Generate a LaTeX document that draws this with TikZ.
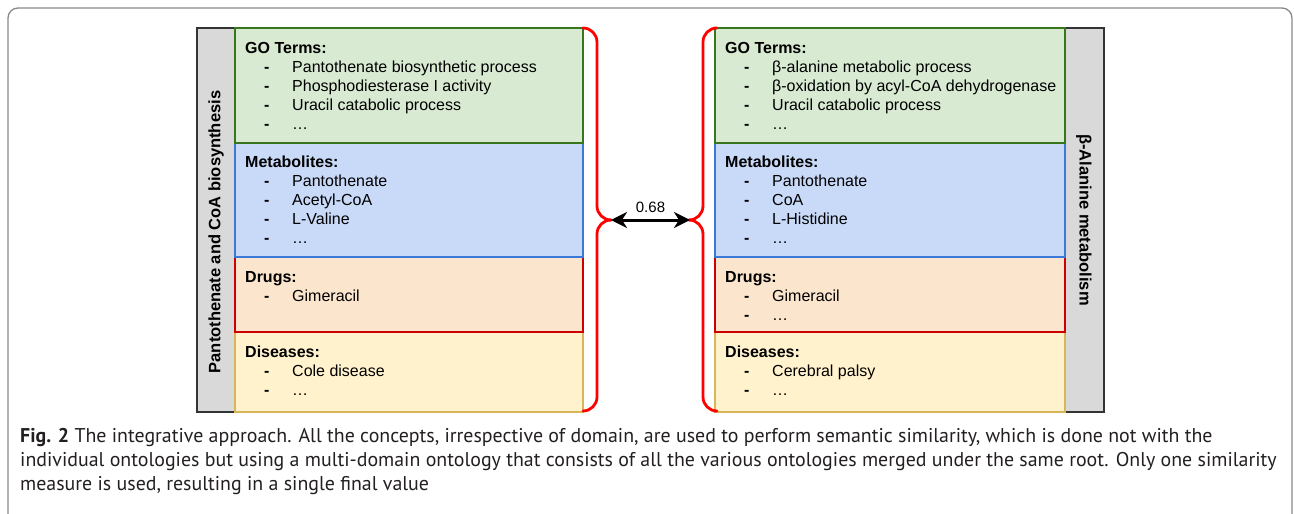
\documentclass[tikz,border=0pt]{standalone}
\usepackage{fontspec}
\setmainfont{Liberation Sans}
\newfontfamily\capfont{PT Sans}
\usetikzlibrary{arrows.meta}
\definecolor{gofill}{HTML}{D9EAD3}\definecolor{godraw}{HTML}{38761D}
\definecolor{mefill}{HTML}{C9DAF8}\definecolor{medraw}{HTML}{3C78D8}
\definecolor{drfill}{HTML}{FCE5CD}\definecolor{drdraw}{HTML}{CC0000}
\definecolor{difill}{HTML}{FFF2CC}\definecolor{didraw}{HTML}{D6B656}
\definecolor{barfill}{HTML}{D9D9D9}
\definecolor{frame}{HTML}{8A8A8A}
\definecolor{captxt}{HTML}{231F20}
\tikzset{
  sec/.style={draw=#1draw, fill=#1fill, line width=1.2pt},
  bar/.style={draw=black!80, fill=barfill, line width=1.2pt},
  listtxt/.style={anchor=north west, inner sep=0pt, align=left, font=\fontsize{16}{19}\selectfont},
  vlabel/.style={inner sep=0pt, font=\fontsize{16.5}{19}\selectfont\bfseries},
  brace/.style={draw=red, line width=2.8pt, line cap=round, line join=round, rounded corners=14pt},
  simarrow/.style={draw=black, line width=3pt, {Stealth[length=16pt,width=16pt,inset=5pt]}-{Stealth[length=16pt,width=16pt,inset=5pt]}},
}
\newcommand\li[1]{\hspace*{19pt}\makebox[28pt][l]{\textbf{-}}#1}
\begin{document}
\begin{tikzpicture}[x=1pt,y=-1pt]
\useasboundingbox (0,0) rectangle (1294,514);
% outer frame
\draw[frame, line width=1.3pt, rounded corners=10pt] (8,520) -- (8,8) -- (1292,8) -- (1292,520);
% left side
\filldraw[bar] (197,28) rectangle (235,412);
\node[vlabel, rotate=90] (lname) at (216,232) {Pantothenate and CoA biosynthesis};
\filldraw[sec=di] (235,332) rectangle (583,412);
\filldraw[sec=dr] (235,257) rectangle (583,332);
\filldraw[sec=me] (235,143) rectangle (583,257);
\filldraw[sec=go] (235,28) rectangle (583,143);
\node[listtxt] (lgo) at (245,42) {\textbf{GO Terms:}\\\li{Pantothenate biosynthetic process}\\\li{Phosphodiesterase I activity}\\\li{Uracil catabolic process}\\\li{\ldots}};
\node[listtxt] (lme) at (245,156) {\textbf{Metabolites:}\\\li{Pantothenate}\\\li{Acetyl-CoA}\\\li{L-Valine}\\\li{\ldots}};
\node[listtxt] (ldr) at (245,271) {\textbf{Drugs:}\\\li{Gimeracil}};
\node[listtxt] (ldi) at (245,346) {\textbf{Diseases:}\\\li{Cole disease}\\\li{\ldots}};
% right side
\filldraw[bar] (1065,28) rectangle (1104,412);
\node[vlabel, rotate=-90] (rname) at (1084,220) {β-Alanine metabolism};
\filldraw[sec=di] (715,332) rectangle (1065,412);
\filldraw[sec=dr] (715,257) rectangle (1065,332);
\filldraw[sec=me] (715,143) rectangle (1065,257);
\filldraw[sec=go] (715,28) rectangle (1065,143);
\node[listtxt] (rgo) at (725,42) {\textbf{GO Terms:}\\\li{β-alanine metabolic process}\\\li{β-oxidation by acyl-CoA dehydrogenase}\\\li{Uracil catabolic process}\\\li{\ldots}};
\node[listtxt] (rme) at (725,156) {\textbf{Metabolites:}\\\li{Pantothenate}\\\li{CoA}\\\li{L-Histidine}\\\li{\ldots}};
\node[listtxt] (rdr) at (725,271) {\textbf{Drugs:}\\\li{Gimeracil}\\\li{\ldots}};
\node[listtxt] (rdi) at (725,346) {\textbf{Diseases:}\\\li{Cerebral palsy}\\\li{\ldots}};
% braces
\coordinate (ltip) at (611,220);
\coordinate (rtip) at (690,220);
\draw[brace] (584,28) -- (597,28) -- (597,220) -- (ltip);
\draw[brace] (ltip) -- (597,220) -- (597,411) -- (584,411);
\draw[brace] (714,28) -- (703,28) -- (703,220) -- (rtip);
\draw[brace] (rtip) -- (703,220) -- (703,411) -- (714,411);
\draw[simarrow] (ltip) -- node[above=5pt, font=\fontsize{15}{16}\selectfont, inner sep=1pt] (sim) {0.68} (rtip);
% caption
\node[anchor=north west, inner sep=0pt, align=left, text=captxt, font=\capfont\fontsize{19.9}{24}\selectfont] (cap) at (20,428)
 {\textbf{Fig. 2} The integrative approach. All the concepts, irrespective of domain, are used to perform semantic similarity, which is done not with the\\
 individual ontologies but using a multi-domain ontology that consists of all the various ontologies merged under the same root. Only one similarity\\
 measure is used, resulting in a single final value};
\end{tikzpicture}
\end{document}
